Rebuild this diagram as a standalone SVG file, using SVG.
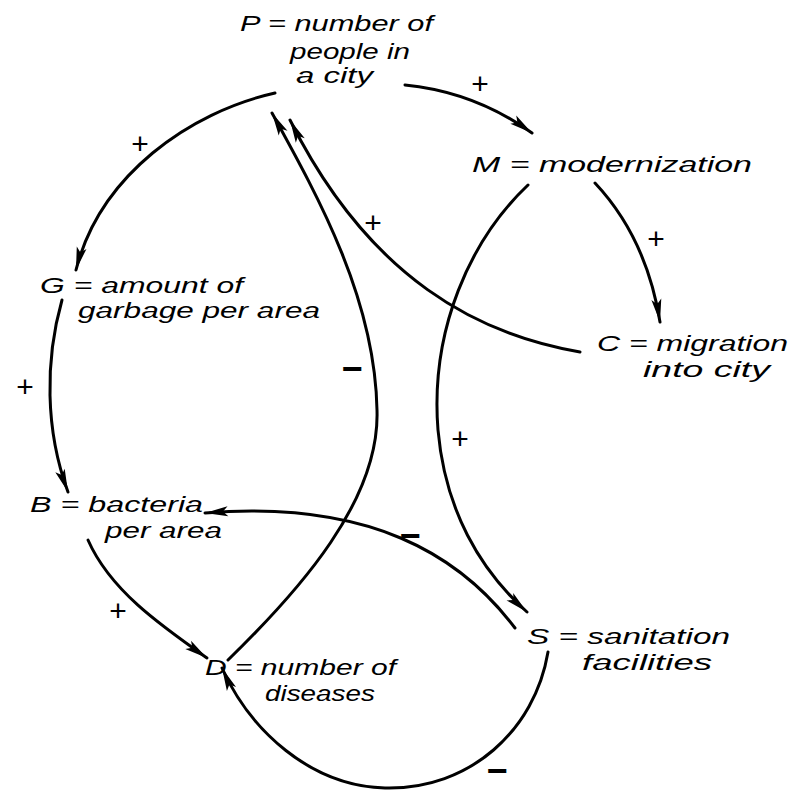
<svg xmlns="http://www.w3.org/2000/svg" width="790" height="795" viewBox="0 0 790 795">
<style>
.lbl{font-family:"Liberation Sans",sans-serif;font-style:italic;font-size:22px;fill:#000}
.sign{font-family:"Liberation Sans",sans-serif;font-size:30px;fill:#000;text-anchor:middle;dominant-baseline:central}
.minus{font-family:"Liberation Sans",sans-serif;font-size:36px;font-weight:bold;fill:#000;text-anchor:middle;dominant-baseline:central}
.c{fill:none;stroke:#000;stroke-width:3;stroke-linecap:round;marker-end:url(#ah)}
</style>
<defs>
<marker id="ah" markerUnits="userSpaceOnUse" markerWidth="30" markerHeight="16" viewBox="-24 -8 26 16" refX="0" refY="0" orient="auto">
<path d="M0,0 L-23,-5 L-18,0 L-23,5 z" fill="#000"/>
</marker>
</defs>
<rect width="790" height="795" fill="#fff"/>
<g id="connectors">
<path class="c" d="M405,85 Q475,92 532,133"/>
<path class="c" d="M275,93 C190,112 100,175 76,270"/>
<path class="c" d="M62,300 C45,360 45,430 68,492"/>
<path class="c" d="M88,540 C110,590 160,625 207,658"/>
<path class="c" d="M228,660 C300,590 380,500 377,410 C375,300 320,200 272,113"/>
<path class="c" d="M580,352 C480,335 370,280 290,120"/>
<path class="c" d="M595,183 C625,215 650,260 660,322"/>
<path class="c" d="M528,185 C470,240 430,330 438,430 C445,510 480,570 527,612"/>
<path class="c" d="M515,628 C460,555 370,500 205,513"/>
<path class="c" d="M548,652 C535,730 470,790 385,788 C310,786 250,730 222,668"/>
</g>
<g id="signs">
<text class="sign" x="480" y="83">+</text>
<text class="sign" x="140" y="143">+</text>
<text class="sign" x="656" y="238">+</text>
<text class="sign" x="373" y="222">+</text>
<text class="sign" x="25" y="386">+</text>
<text class="sign" x="460" y="438">+</text>
<text class="sign" x="118" y="610">+</text>
<text class="minus" x="352" y="368">−</text>
<text class="minus" x="410" y="535">−</text>
<text class="minus" x="497" y="770">−</text>
</g>
<g id="node-P">
<text class="lbl" x="240" y="31" textLength="193" lengthAdjust="spacingAndGlyphs">P = number of</text>
<text class="lbl" x="290" y="59" textLength="120" lengthAdjust="spacingAndGlyphs">people in</text>
<text class="lbl" x="296" y="83" textLength="77" lengthAdjust="spacingAndGlyphs">a city</text>
</g>
<g id="node-M">
<text class="lbl" x="472" y="172" textLength="280" lengthAdjust="spacingAndGlyphs">M = modernization</text>
</g>
<g id="node-G">
<text class="lbl" x="40" y="293" textLength="203" lengthAdjust="spacingAndGlyphs">G = amount of</text>
<text class="lbl" x="78" y="318" textLength="242" lengthAdjust="spacingAndGlyphs">garbage per area</text>
</g>
<g id="node-C">
<text class="lbl" x="597" y="351" textLength="191" lengthAdjust="spacingAndGlyphs">C = migration</text>
<text class="lbl" x="643" y="377" textLength="127" lengthAdjust="spacingAndGlyphs">into city</text>
</g>
<g id="node-B">
<text class="lbl" x="30" y="512" textLength="173" lengthAdjust="spacingAndGlyphs">B = bacteria</text>
<text class="lbl" x="105" y="538" textLength="117" lengthAdjust="spacingAndGlyphs">per area</text>
</g>
<g id="node-S">
<text class="lbl" x="527" y="644" textLength="203" lengthAdjust="spacingAndGlyphs">S = sanitation</text>
<text class="lbl" x="582" y="670" textLength="130" lengthAdjust="spacingAndGlyphs">facilities</text>
</g>
<g id="node-D">
<text class="lbl" x="205" y="675" textLength="191" lengthAdjust="spacingAndGlyphs">D = number of</text>
<text class="lbl" x="265" y="701" textLength="110" lengthAdjust="spacingAndGlyphs">diseases</text>
</g>
</svg>
